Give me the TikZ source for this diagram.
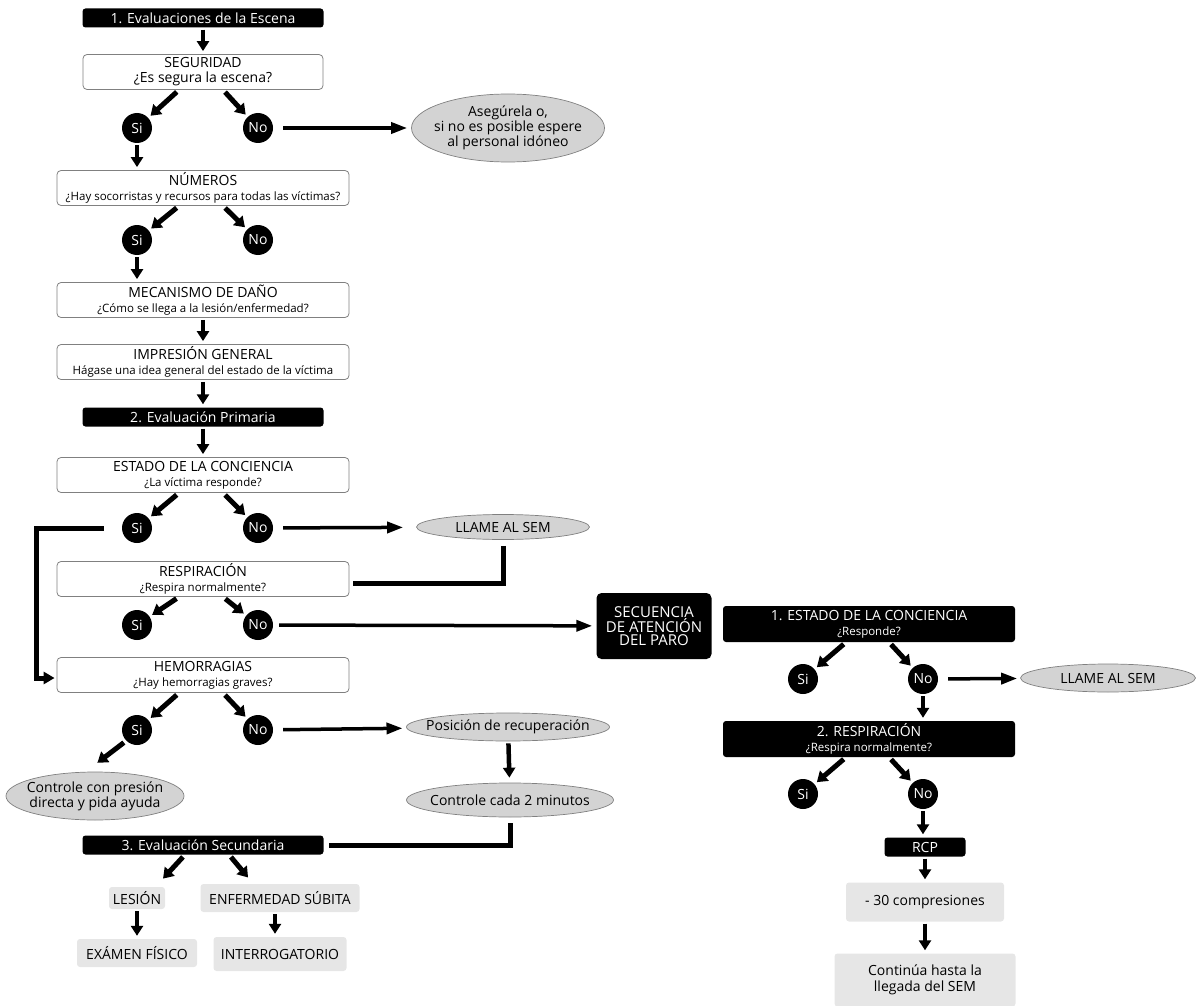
\documentclass[tikz,border=0pt]{standalone}
\usepackage{fontspec}
\setmainfont{Open Sans}
\usetikzlibrary{arrows.meta,shapes.geometric}

\definecolor{ovalgray}{HTML}{D3D3D3}
\definecolor{boxgray}{HTML}{E6E6E6}
\definecolor{edgegray}{HTML}{808080}
\newcommand{\subq}[1]{{\fontsize{11.5}{12}\selectfont #1}}

\begin{document}
\begin{tikzpicture}[x=1pt, y=-1pt,
    whitebox/.style={draw=edgegray, line width=0.8pt, rounded corners=4pt, fill=white,
      minimum width=292pt, minimum height=35pt, inner sep=0pt, align=center,
      font=\fontsize{14}{15}\selectfont},
    blackbar/.style={fill=black, rounded corners=3pt, text=white, minimum width=241pt,
      minimum height=19pt, inner sep=0pt, align=center, font=\fontsize{14}{15}\selectfont},
    yesno/.style={circle, fill=black, text=white, minimum size=30pt, inner sep=0pt,
      font=\fontsize{14}{15}\selectfont},
    oval/.style={ellipse, draw=edgegray, line width=0.7pt, fill=ovalgray, inner sep=0pt},
    ovaltext/.style={align=center, inner sep=0pt, font=\fontsize{14}{13}\selectfont},
    graybox/.style={fill=boxgray, rounded corners=3pt, inner sep=0pt, align=center,
      font=\fontsize{14}{16}\selectfont},
    down/.style={line width=4.5pt, -{Triangle[length=10pt,width=12pt]},
      shorten <=2pt, shorten >=3pt},
    slant/.style={line width=5pt, -{Triangle[length=10pt,width=13pt]},
      shorten <=3pt, shorten >=3pt},
    across/.style={line width=3.5pt, -{Triangle[length=16pt,width=11pt]},
      shorten <=10pt, shorten >=4pt},
    link/.style={line width=5pt}
  ]
  \useasboundingbox (0,0) rectangle (1200,1006);

  % Define column positions
  \def\colL{203}
  \def\colSi{137}
  \def\colNo{258}

  % 1. Scene evaluation
  \node[blackbar] (escena) at (\colL,18) {1. Evaluaciones de la Escena};
  \node[whitebox, minimum width=240pt] (seguridad) at (\colL,72) {SEGURIDAD\\¿Es segura la escena?};
  \node[yesno] (si1) at (\colSi,128) {Si};
  \node[yesno] (no1) at (\colNo,128) {No};
  \node[oval, minimum width=193pt, minimum height=68pt,
    label={[ovaltext]center:{Asegúrela o,\\si no es posible espere\\al personal idóneo}}] (asegure) at (508,128) {};
  \node[whitebox] (numeros) at (\colL,188) {NÚMEROS\\\subq{¿Hay socorristas y recursos para todas las víctimas?}};
  \node[yesno] (si2) at (\colSi,240) {Si};
  \node[yesno] (no2) at (\colNo,240) {No};
  \node[whitebox] (mecanismo) at (\colL,300) {MECANISMO DE DAÑO\\\subq{¿Cómo se llega a la lesión/enfermedad?}};
  \node[whitebox] (impresion) at (\colL,362) {IMPRESIÓN GENERAL\\\subq{Hágase una idea general del estado de la víctima}};

  % 2. Primary evaluation
  \node[blackbar] (primaria) at (\colL,417) {2. Evaluación Primaria};
  \node[whitebox] (conciencia) at (\colL,475) {ESTADO DE LA CONCIENCIA\\\subq{¿La víctima responde?}};
  \node[yesno] (si3) at (\colSi,528) {Si};
  \node[yesno] (no3) at (\colNo,528) {No};
  \node[oval, minimum width=173pt, minimum height=25pt,
    label={[ovaltext]center:LLAME AL SEM}] (llame) at (503,527) {};
  \node[whitebox] (respiracion) at (\colL,579) {RESPIRACIÓN\\\subq{¿Respira normalmente?}};
  \node[yesno] (si4) at (\colSi,625) {Si};
  \node[yesno] (no4) at (\colNo,625) {No};
  \node[fill=black, rounded corners=5pt, text=white, minimum width=115pt, minimum height=66pt,
    inner sep=0pt, align=center, font=\fontsize{15}{13}\selectfont] (secuencia) at (654,626)
    {SECUENCIA\\DE ATENCIÓN\\DEL PARO};
  \node[whitebox] (hemorragias) at (\colL,675) {HEMORRAGIAS\\\subq{¿Hay hemorragias graves?}};
  \node[yesno] (si5) at (\colSi,730) {Si};
  \node[yesno] (no5) at (\colNo,730) {No};
  \node[oval, minimum width=203pt, minimum height=28pt,
    label={[ovaltext]center:Posición de recuperación}] (posicion) at (508,727) {};
  \node[oval, minimum width=178pt, minimum height=48pt,
    label={[ovaltext]center:{Controle con presión\\directa y pida ayuda}}] (presion) at (95,796) {};
  \node[oval, minimum width=207pt, minimum height=34pt,
    label={[ovaltext]center:Controle cada 2 minutos}] (cada) at (510,800) {};

  % 3. Secondary evaluation
  \node[blackbar] (secundaria) at (\colL,845) {3. Evaluación Secundaria};
  \node[graybox, minimum width=56pt, minimum height=22pt] (lesion) at (137,898) {LESIÓN};
  \node[graybox, minimum width=159pt, minimum height=28pt] (enfermedad) at (280,898) {ENFERMEDAD SÚBITA};
  \node[graybox, minimum width=120pt, minimum height=28pt] (examen) at (137,953) {EXÁMEN FÍSICO};
  \node[graybox, minimum width=133pt, minimum height=34pt] (interroga) at (280,954) {INTERROGATORIO};

  % Arrest sequence
  \node[blackbar, minimum width=292pt, minimum height=36pt] (paro1) at (869,624) {1. ESTADO DE LA CONCIENCIA\\\subq{¿Responde?}};
  \node[yesno] (rsi1) at (803,679) {Si};
  \node[yesno] (rno1) at (923,679) {No};
  \node[oval, minimum width=175pt, minimum height=28pt,
    label={[ovaltext]center:LLAME AL SEM}] (llame2) at (1108,678) {};
  \node[blackbar, minimum width=292pt, minimum height=36pt] (paro2) at (869,739) {2. RESPIRACIÓN\\\subq{¿Respira normalmente?}};
  \node[yesno] (rsi2) at (803,794) {Si};
  \node[yesno] (rno2) at (923,794) {No};
  \node[blackbar, minimum width=81pt] (rcp) at (925,847) {RCP};
  \node[graybox, minimum width=158pt, minimum height=39pt] (compresiones) at (925,902) {- 30 compresiones};
  \node[graybox, minimum width=181pt, minimum height=53pt] (continua) at (925,980) {Continúa hasta la\\llegada del SEM};

  % Draw the arrows
  \draw[down] (escena) -- (seguridad);
  \draw[slant] ([xshift=-24pt]seguridad.south) -- (si1);
  \draw[slant] ([xshift=20pt]seguridad.south) -- (no1);
  \draw[across] (no1) -- (asegure);
  \draw[down] (si1) -- (si1 |- numeros.north);
  \draw[slant] ([xshift=-24pt]numeros.south) -- (si2);
  \draw[slant] ([xshift=20pt]numeros.south) -- (no2);
  \draw[down] (si2) -- (si2 |- mecanismo.north);
  \draw[down] (mecanismo) -- (impresion);
  \draw[down] (impresion) -- (primaria);
  \draw[down] (primaria) -- (conciencia);
  \draw[slant] ([xshift=-24pt]conciencia.south) -- (si3);
  \draw[slant] ([xshift=20pt]conciencia.south) -- (no3);
  \draw[across, shorten >=13pt] (no3) -- (llame);
  \draw[link, shorten <=6pt, shorten >=4pt] (llame) |- ([yshift=-4pt]respiracion.east);
  \draw[link, -{Triangle[length=11pt,width=12pt]}, shorten >=2pt]
    ([xshift=-18pt]si3.west) -- ++(-67,0) |- ([yshift=-3pt]hemorragias.west);
  \draw[slant] ([xshift=-24pt]respiracion.south) -- (si4);
  \draw[slant] ([xshift=20pt]respiracion.south) -- (no4);
  \draw[across, shorten <=6pt] (no4) -- (secuencia);
  \draw[slant] ([xshift=-24pt]hemorragias.south) -- (si5);
  \draw[slant] ([xshift=20pt]hemorragias.south) -- (no5);
  \draw[across] (no5) -- (posicion);
  \draw[slant] (si5.south west) -- ([yshift=7pt]presion.north);
  \draw[down, shorten >=5pt] (posicion) -- (cada);
  \draw[link, shorten <=6pt, shorten >=5pt] (cada) |- (secundaria.east);
  \draw[slant] ([xshift=-18pt]secundaria.south) -- ([xshift=24pt,yshift=6pt]lesion.north);
  \draw[slant] ([xshift=26pt]secundaria.south) -- ([xshift=-30pt,yshift=4pt]enfermedad.north);
  \draw[down] (lesion) -- (examen);
  \draw[down] ([xshift=-5pt]enfermedad.south) -- ([xshift=-5pt]interroga.north);

  \draw[slant] ([xshift=-23pt]paro1.south) -- (rsi1);
  \draw[slant] ([xshift=20pt]paro1.south) -- (rno1);
  \draw[across, shorten >=3pt] (rno1) -- (llame2);
  \draw[down] (rno1) -- (rno1 |- paro2.north);
  \draw[slant] ([xshift=-23pt]paro2.south) -- (rsi2);
  \draw[slant] ([xshift=20pt]paro2.south) -- (rno2);
  \draw[down] (rno2) -- (rno2 |- rcp.north);
  \draw[down] (rcp) -- (compresiones);
  \draw[down] (compresiones) -- (continua);
\end{tikzpicture}
\end{document}
